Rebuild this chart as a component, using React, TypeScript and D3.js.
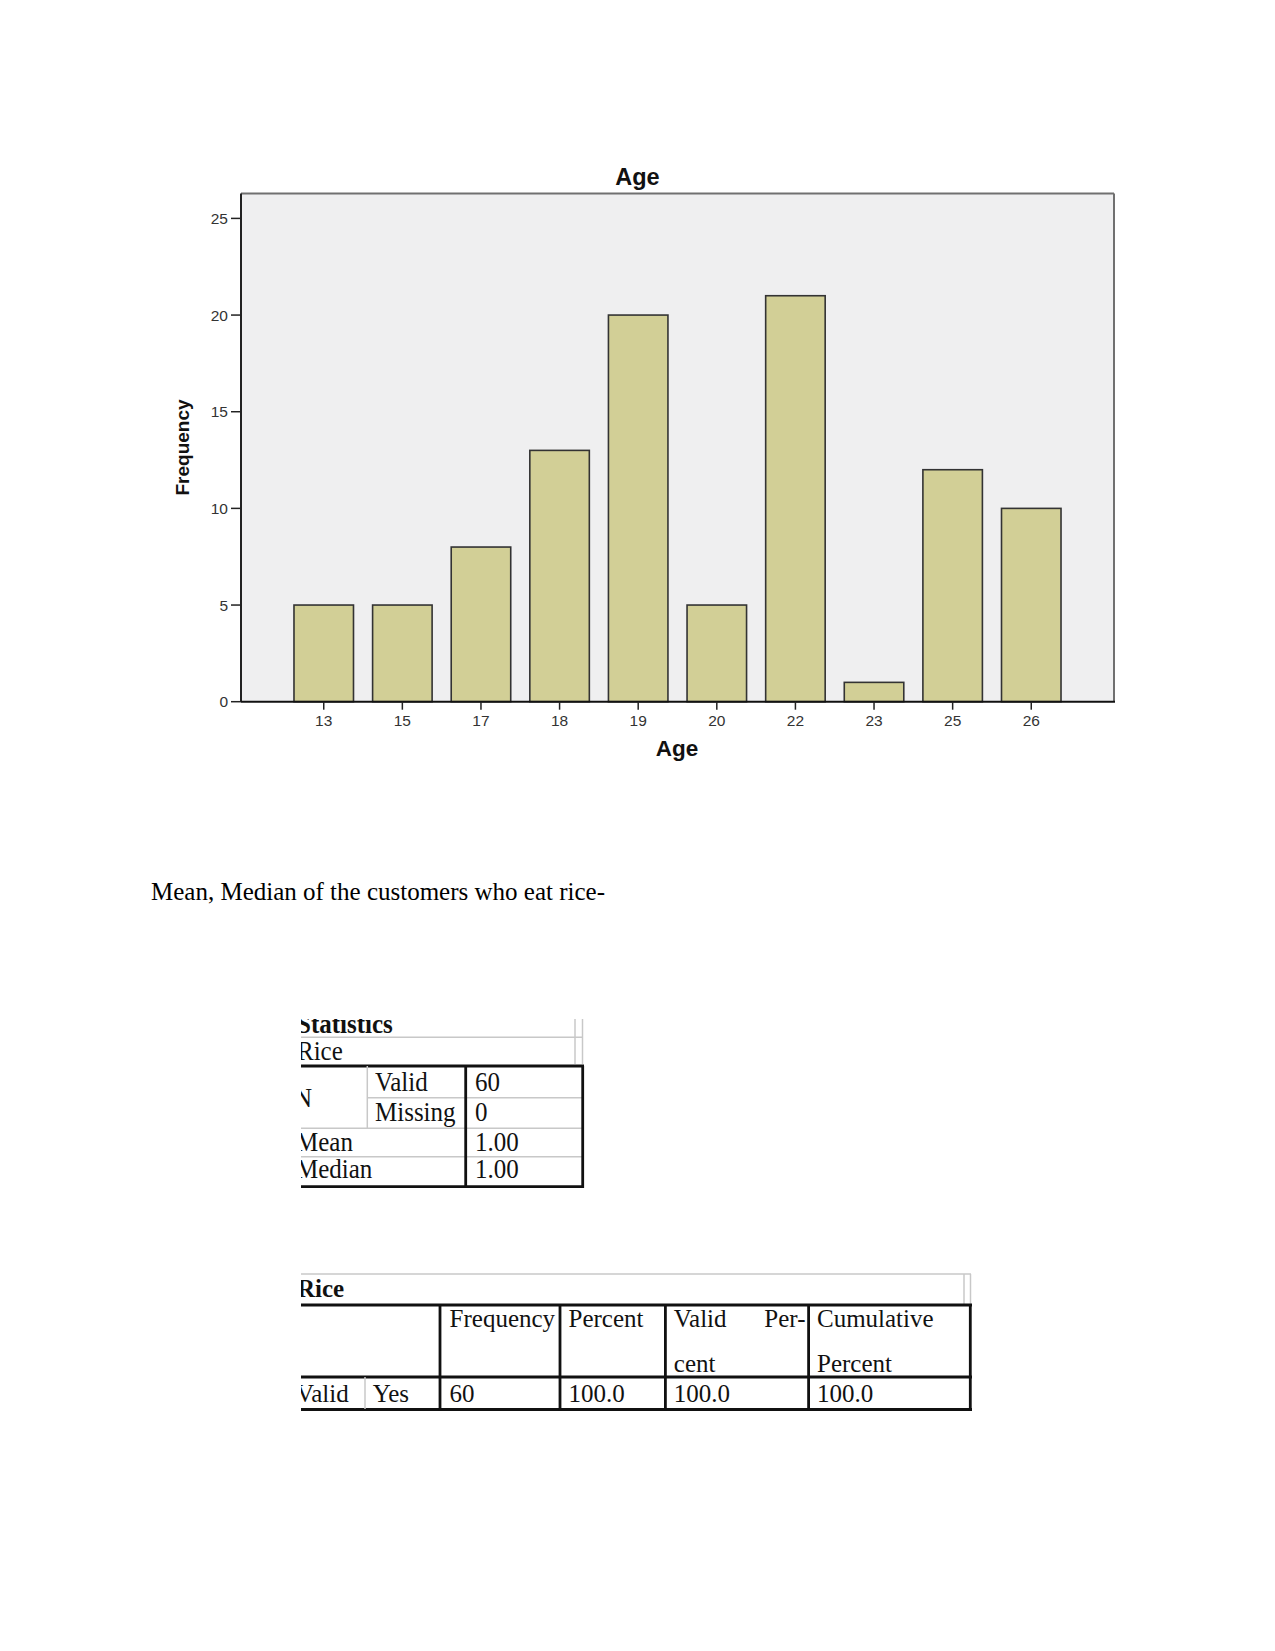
import React from "react";
import * as d3 from "d3";

const ages = ["13", "15", "17", "18", "19", "20", "22", "23", "25", "26"];
const frequencies = [5, 5, 8, 13, 20, 5, 21, 1, 12, 10];
const yTicks = [0, 5, 10, 15, 20, 25];

const chartTitle = "Age";
const xLabel = "Age";
const yLabel = "Frequency";
const caption = "Mean, Median of the customers who eat rice-";

const statsTitle = "Statistics";
const statsVar = "Rice";
const statsLabels = ["Valid", "Missing"];
const statsValues = ["60", "0", "1.00", "1.00"];
const statsRowNames = ["N", "Mean", "Median"];

const freqTitle = "Rice";
const freqHeader1 = ["Frequency", "Percent", "Valid", "Per-", "Cumulative"];
const freqHeader2 = ["cent", "Percent"];
const freqRow = ["Valid", "Yes", "60", "100.0", "100.0", "100.0"];

const serif = "'Liberation Serif', 'Times New Roman', serif";
const sans = "'Liberation Sans', Arial, sans-serif";

function ST({ x, y, children, bold = false, sy = 1.08, size = 25, anchor = "start" }: any) {
  return (
    <text
      transform={`translate(${x},${y}) scale(1,${sy})`}
      fontFamily={serif}
      fontSize={size}
      fontWeight={bold ? "bold" : "normal"}
      textAnchor={anchor}
      fill="#111"
    >
      {children}
    </text>
  );
}

export default function App() {
  const left = 241;
  const right = 1114;
  const top = 193.5;
  const bottom = 701.7;

  const x = d3
    .scaleBand<string>()
    .domain(ages)
    .range([left, right])
    .paddingInner(0.243)
    .paddingOuter(0.674);
  const y = d3.scaleLinear().domain([0, 25]).range([bottom, 218.4]);

  const thick = "#111";
  const grey = "#c8c8c8";

  return (
    <svg
      width={1275}
      height={1651}
      style={{ position: "absolute", left: 0, top: 0, background: "#fff" }}
    >
      <defs>
        <clipPath id="clipT1">
          <rect x={301} y={1019} width={300} height={200} />
        </clipPath>
        <clipPath id="clipT2">
          <rect x={301} y={1260} width={700} height={170} />
        </clipPath>
      </defs>

      {/* Chart */}
      <text x={637.5} y={185} textAnchor="middle" fontFamily={sans} fontWeight="bold" fontSize={23.5} fill="#111">
        {chartTitle}
      </text>
      <rect x={left} y={top} width={right - left} height={bottom - top} fill="#EFEFF0" />
      <line x1={left} x2={right} y1={top} y2={top} stroke="#707070" strokeWidth={2} />
      <line x1={right} x2={right} y1={top} y2={bottom} stroke="#707070" strokeWidth={2} />

      {ages.map((a, i) => (
        <rect
          key={a}
          x={x(a)!}
          y={y(frequencies[i])}
          width={x.bandwidth()}
          height={y(0) - y(frequencies[i])}
          fill="#D2CF96"
          stroke="#333"
          strokeWidth={1.6}
        />
      ))}

      <line x1={left} x2={left} y1={top} y2={bottom} stroke="#222" strokeWidth={2} />
      <line x1={left} x2={right + 1} y1={bottom} y2={bottom} stroke="#111" strokeWidth={2} />

      {yTicks.map((t) => (
        <g key={t}>
          <line x1={231} x2={left} y1={y(t)} y2={y(t)} stroke="#222" strokeWidth={1.5} />
          <text x={228} y={y(t) + 5.5} textAnchor="end" fontFamily={sans} fontSize={15.5} fill="#333">
            {t}
          </text>
        </g>
      ))}
      {ages.map((a) => {
        const cx = x(a)! + x.bandwidth() / 2;
        return (
          <g key={a}>
            <line x1={cx} x2={cx} y1={bottom} y2={bottom + 8} stroke="#222" strokeWidth={1.5} />
            <text x={cx} y={725.5} textAnchor="middle" fontFamily={sans} fontSize={15.5} fill="#333">
              {a}
            </text>
          </g>
        );
      })}
      <text x={677} y={756} textAnchor="middle" fontFamily={sans} fontWeight="bold" fontSize={22.5} fill="#111">
        {xLabel}
      </text>
      <text
        transform={`translate(188.5,447.5) rotate(-90)`}
        textAnchor="middle"
        fontFamily={sans}
        fontWeight="bold"
        fontSize={19}
        fill="#111"
      >
        {yLabel}
      </text>

      {/* Caption */}
      <text x={151} y={900} fontFamily={serif} fontSize={25} fill="#000">
        {caption}
      </text>

      {/* Statistics table */}
      <g clipPath="url(#clipT1)">
        <ST x={297} y={1033} bold>{statsTitle}</ST>
        <line x1={301} x2={583} y1={1037.3} y2={1037.3} stroke={grey} strokeWidth={1.5} />
        <line x1={575} x2={575} y1={1015} y2={1064} stroke={grey} strokeWidth={1.5} />
        <line x1={582.5} x2={582.5} y1={1015} y2={1064} stroke={grey} strokeWidth={1.5} />
        <ST x={297} y={1060}>{statsVar}</ST>
        <line x1={300} x2={584} y1={1066} y2={1066} stroke={thick} strokeWidth={2.8} />
        <line x1={367.3} x2={367.3} y1={1066} y2={1128.3} stroke={grey} strokeWidth={1.5} />
        <line x1={367.3} x2={583} y1={1097.7} y2={1097.7} stroke={grey} strokeWidth={1.5} />
        <line x1={301} x2={583} y1={1128.3} y2={1128.3} stroke={grey} strokeWidth={1.5} />
        <line x1={301} x2={583} y1={1156.7} y2={1156.7} stroke={grey} strokeWidth={1.5} />
        <line x1={300} x2={584} y1={1186.7} y2={1186.7} stroke={thick} strokeWidth={2.8} />
        <line x1={465.7} x2={465.7} y1={1066} y2={1187} stroke={thick} strokeWidth={2.8} />
        <line x1={582.7} x2={582.7} y1={1066} y2={1188} stroke={thick} strokeWidth={2.8} />
        <ST x={294} y={1107}>{statsRowNames[0]}</ST>
        <ST x={375} y={1090.7}>{statsLabels[0]}</ST>
        <ST x={375} y={1120.7}>{statsLabels[1]}</ST>
        <ST x={475} y={1090.7}>{statsValues[0]}</ST>
        <ST x={475} y={1120.7}>{statsValues[1]}</ST>
        <ST x={296} y={1151}>{statsRowNames[1]}</ST>
        <ST x={296} y={1178.3}>{statsRowNames[2]}</ST>
        <ST x={475} y={1151}>{statsValues[2]}</ST>
        <ST x={475} y={1178.3}>{statsValues[3]}</ST>
      </g>

      {/* Frequency table */}
      <g clipPath="url(#clipT2)">
        <line x1={301} x2={971} y1={1274} y2={1274} stroke={grey} strokeWidth={1.5} />
        <line x1={964} x2={964} y1={1274} y2={1304} stroke={grey} strokeWidth={1.5} />
        <line x1={970.5} x2={970.5} y1={1274} y2={1304} stroke={grey} strokeWidth={1.5} />
        <ST x={297} y={1297} bold sy={1}>{freqTitle}</ST>
        <line x1={300} x2={972} y1={1305} y2={1305} stroke={thick} strokeWidth={2.8} />
        <line x1={300} x2={972} y1={1377} y2={1377} stroke={thick} strokeWidth={2.8} />
        <line x1={300} x2={972} y1={1409.5} y2={1409.5} stroke={thick} strokeWidth={2.8} />
        {[440, 560, 665.4, 808.6, 970.3].map((vx) => (
          <line key={vx} x1={vx} x2={vx} y1={1305} y2={1410.5} stroke={thick} strokeWidth={2.8} />
        ))}
        <line x1={365} x2={365} y1={1377} y2={1409} stroke={grey} strokeWidth={1.5} />
        <ST x={449.6} y={1327} sy={1.03}>{freqHeader1[0]}</ST>
        <ST x={568.5} y={1327} sy={1.03}>{freqHeader1[1]}</ST>
        <ST x={673.8} y={1327} sy={1.03}>{freqHeader1[2]}</ST>
        <ST x={805.5} y={1327} sy={1.03} anchor="end">{freqHeader1[3]}</ST>
        <ST x={817} y={1327} sy={1.03}>{freqHeader1[4]}</ST>
        <ST x={673.8} y={1371.5} sy={1.03}>{freqHeader2[0]}</ST>
        <ST x={817} y={1371.5} sy={1.03}>{freqHeader2[1]}</ST>
        <ST x={296} y={1402} sy={1.03}>{freqRow[0]}</ST>
        <ST x={372.7} y={1402} sy={1.03}>{freqRow[1]}</ST>
        <ST x={449.6} y={1402} sy={1.03}>{freqRow[2]}</ST>
        <ST x={568.5} y={1402} sy={1.03}>{freqRow[3]}</ST>
        <ST x={673.8} y={1402} sy={1.03}>{freqRow[4]}</ST>
        <ST x={817} y={1402} sy={1.03}>{freqRow[5]}</ST>
      </g>
    </svg>
  );
}
